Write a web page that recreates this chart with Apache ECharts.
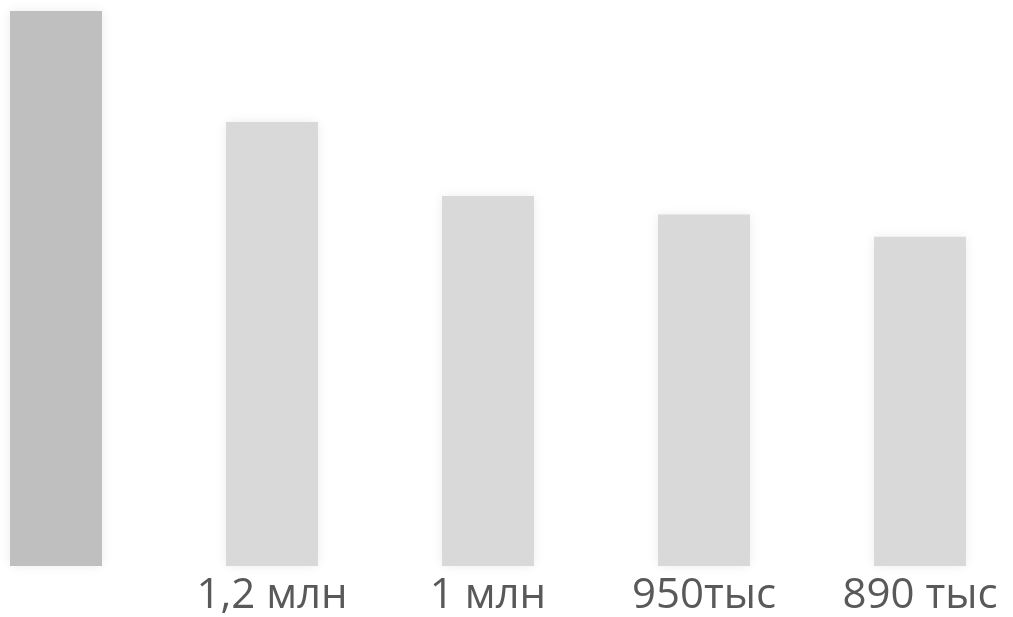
<!DOCTYPE html>
<html><head><meta charset="utf-8">
<script src="https://cdn.jsdelivr.net/npm/echarts@6/dist/echarts.min.js"></script>
<style>html,body{margin:0;padding:0;background:#fff}#c{width:1013px;height:617px}</style>
</head><body><div id="c"></div>
<script>
const categories = ['', '1,2 млн', '1 млн', '950тыс', '890 тыс'];
const values = [1.5, 1.2, 1.0, 0.95, 0.89];
const barColors = ['#bfbfbf', '#d9d9d9', '#d9d9d9', '#d9d9d9', '#d9d9d9'];

const chart = echarts.init(document.getElementById('c'), null, {renderer: 'canvas'});
chart.setOption({
  animation: false,
  grid: {left: 56, right: 93, top: 11, bottom: 50, containLabel: false},
  xAxis: {
    type: 'category', data: categories, boundaryGap: false,
    axisLine: {show: false}, axisTick: {show: false},
    axisLabel: {color: '#595959', fontSize: 42, fontFamily: 'Open Sans', margin: 9, interval: 0}
  },
  yAxis: {type: 'value', min: 0, max: 1.5, show: false, splitLine: {show: false}},
  series: [{
    type: 'bar', barWidth: 92, clip: false,
    data: values.map((v, i) => ({value: v, itemStyle: {color: barColors[i]}})),
    itemStyle: {shadowBlur: 10, shadowColor: 'rgba(0,0,0,0.08)'}
  }]
});
</script></body></html>
